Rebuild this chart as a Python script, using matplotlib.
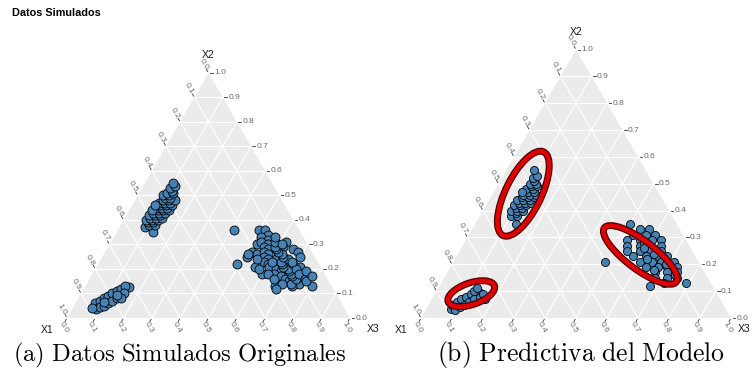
import numpy as np
import matplotlib.pyplot as plt
from matplotlib.patches import Polygon, Ellipse

plt.rcParams['font.family'] = ['Liberation Sans', 'DejaVu Sans']
plt.rcParams['mathtext.fontset'] = 'cm'

# compositions are stored as (X2, X3); X1 = 1 - X2 - X3

# (a) datos simulados originales
a_low_x2 = [0.045, 0.055, 0.065, 0.075, 0.085, 0.095, 0.105, 0.115, 0.125,
            0.06, 0.07, 0.08, 0.09, 0.10, 0.11, 0.12, 0.13,
            0.035, 0.045, 0.05, 0.06, 0.07, 0.08, 0.09, 0.10,
            0.08, 0.04, 0.065, 0.095]
a_low_x3 = [0.075, 0.085, 0.095, 0.105, 0.115, 0.125, 0.135, 0.145, 0.155,
            0.07, 0.08, 0.09, 0.10, 0.11, 0.12, 0.13, 0.14,
            0.085, 0.095, 0.105, 0.115, 0.125, 0.135, 0.14, 0.15,
            0.15, 0.07, 0.10, 0.13]

a_mid_x2 = [0.35, 0.37, 0.38, 0.38, 0.39, 0.39, 0.40, 0.40, 0.40, 0.41, 0.41, 0.41,
            0.42, 0.42, 0.42, 0.43, 0.43, 0.43, 0.44, 0.44, 0.44, 0.45, 0.45, 0.45,
            0.46, 0.46, 0.46, 0.47, 0.47, 0.47, 0.48, 0.48, 0.48, 0.49, 0.49, 0.50,
            0.50, 0.51, 0.51, 0.52, 0.53, 0.54, 0.55, 0.44, 0.46]
a_mid_x3 = [0.13, 0.09, 0.10, 0.12, 0.09, 0.11, 0.08, 0.10, 0.12, 0.09, 0.11, 0.13,
            0.08, 0.10, 0.12, 0.09, 0.11, 0.13, 0.10, 0.12, 0.14, 0.09, 0.11, 0.13,
            0.10, 0.12, 0.14, 0.09, 0.11, 0.13, 0.10, 0.12, 0.14, 0.10, 0.12, 0.09,
            0.11, 0.10, 0.12, 0.11, 0.10, 0.11, 0.10, 0.08, 0.08]

a_right_x2 = [0.36, 0.22, 0.25, 0.36, 0.36, 0.34, 0.27, 0.21, 0.13, 0.13, 0.31, 0.21,
              0.14, 0.13, 0.29, 0.24, 0.20, 0.18, 0.26, 0.30, 0.33, 0.32, 0.31, 0.30,
              0.29, 0.28, 0.27, 0.26, 0.25, 0.24, 0.23, 0.22, 0.21, 0.20, 0.19, 0.18,
              0.17, 0.16, 0.15, 0.14, 0.16, 0.17, 0.18, 0.19, 0.20, 0.21, 0.22, 0.23,
              0.24, 0.25, 0.26, 0.27, 0.28, 0.29, 0.22, 0.20, 0.18, 0.16, 0.15, 0.19,
              0.17, 0.23, 0.24, 0.26, 0.31, 0.30, 0.33, 0.14, 0.12, 0.23, 0.20, 0.18,
              0.16, 0.28, 0.27, 0.25]
a_right_x3 = [0.41, 0.49, 0.51, 0.50, 0.52, 0.54, 0.52, 0.56, 0.80, 0.67, 0.62, 0.72,
              0.75, 0.73, 0.62, 0.62, 0.62, 0.60, 0.54, 0.52, 0.52, 0.55, 0.53, 0.56,
              0.55, 0.57, 0.56, 0.58, 0.57, 0.59, 0.58, 0.60, 0.61, 0.64, 0.66, 0.64,
              0.67, 0.69, 0.71, 0.72, 0.73, 0.71, 0.70, 0.69, 0.68, 0.66, 0.65, 0.64,
              0.66, 0.64, 0.63, 0.61, 0.60, 0.59, 0.69, 0.71, 0.73, 0.76, 0.77, 0.75,
              0.78, 0.68, 0.55, 0.51, 0.58, 0.61, 0.57, 0.69, 0.68, 0.61, 0.58, 0.62,
              0.65, 0.66, 0.68, 0.70]

# (b) predictiva del modelo
b_low_x2 = [0.035, 0.045, 0.055, 0.065, 0.075, 0.085, 0.095,
            0.05, 0.06, 0.07, 0.08, 0.09, 0.10, 0.11,
            0.03, 0.04, 0.05, 0.06, 0.07, 0.08,
            0.08, 0.07, 0.09]
b_low_x3 = [0.08, 0.09, 0.10, 0.11, 0.12, 0.13, 0.14,
            0.075, 0.085, 0.095, 0.105, 0.115, 0.12, 0.125,
            0.095, 0.105, 0.115, 0.125, 0.135, 0.15,
            0.165, 0.17, 0.155]

b_mid_x2 = [0.35, 0.38, 0.38, 0.39, 0.40, 0.40, 0.40, 0.41, 0.41, 0.42, 0.42, 0.42,
            0.43, 0.43, 0.43, 0.44, 0.44, 0.44, 0.45, 0.45, 0.45, 0.46, 0.46, 0.46,
            0.47, 0.47, 0.48, 0.48, 0.49, 0.49, 0.50, 0.50, 0.51, 0.52, 0.53, 0.55,
            0.47]
b_mid_x3 = [0.13, 0.10, 0.12, 0.11, 0.09, 0.11, 0.13, 0.10, 0.12, 0.09, 0.11, 0.13,
            0.10, 0.12, 0.14, 0.09, 0.11, 0.13, 0.10, 0.12, 0.14, 0.10, 0.12, 0.14,
            0.11, 0.13, 0.10, 0.12, 0.11, 0.13, 0.10, 0.12, 0.11, 0.10, 0.11, 0.09,
            0.09]

b_right_x2 = [0.33, 0.33, 0.31, 0.31, 0.31, 0.29, 0.29, 0.29, 0.29, 0.27, 0.27, 0.27,
              0.27, 0.25, 0.25, 0.25, 0.25, 0.23, 0.23, 0.23, 0.23, 0.21, 0.21, 0.21,
              0.21, 0.19, 0.19, 0.19, 0.19, 0.17, 0.17, 0.17, 0.15, 0.15, 0.15, 0.13,
              0.13, 0.21, 0.35, 0.12, 0.28, 0.24, 0.20, 0.22, 0.18, 0.26, 0.16]
b_right_x3 = [0.54, 0.57, 0.53, 0.57, 0.60, 0.52, 0.56, 0.60, 0.63, 0.53, 0.57, 0.60,
              0.64, 0.54, 0.58, 0.61, 0.65, 0.57, 0.61, 0.65, 0.68, 0.60, 0.64, 0.67,
              0.71, 0.63, 0.67, 0.70, 0.73, 0.67, 0.71, 0.74, 0.68, 0.72, 0.75, 0.72,
              0.79, 0.49, 0.50, 0.68, 0.58, 0.63, 0.69, 0.62, 0.66, 0.59, 0.74]

# predictive regions in (b): centre (X2, X3), axes as fraction of the side, angle
reg_x2 = [0.0905, 0.463, 0.235]
reg_x3 = [0.117, 0.0985, 0.59]
reg_width = [0.158, 0.30, 0.29]
reg_height = [0.07, 0.115, 0.092]
reg_angle = [19, 64, -37]

tick_vals = [0.0, 0.1, 0.2, 0.3, 0.4, 0.5, 0.6, 0.7, 0.8, 0.9, 1.0]
tick_labels = ['0.0', '0.1', '0.2', '0.3', '0.4', '0.5', '0.6', '0.7', '0.8', '0.9', '1.0']

SQ = np.sqrt(3) / 2


def to_xy(x2, x3):
	x2 = np.asarray(x2)
	x3 = np.asarray(x3)
	return x3 + x2 / 2, x2 * SQ


def frame(ax, side_px, x3_shift=23):
	px = 1.0 / side_px
	ax.set_xlim(0, 1)
	ax.set_ylim(0, SQ)
	ax.axis('off')
	ax.add_patch(Polygon([[0, 0], [1, 0], [0.5, SQ]], closed=True,
	                     facecolor='#EBEBEB', edgecolor='none', zorder=0))
	grid = dict(color='white', lw=0.8, zorder=1)
	for v in tick_vals[1:-1]:
		ax.plot([v / 2, 1 - v / 2], [v * SQ, v * SQ], **grid)
		ax.plot([v, (1 + v) / 2], [0, (1 - v) * SQ], **grid)
		ax.plot([1 - v, (1 - v) / 2], [0, (1 - v) * SQ], **grid)

	tk = dict(color='#333333', lw=0.6, clip_on=False)
	lab = dict(fontsize=6, color='#6A6A6A')
	for v, s in zip(tick_vals, tick_labels):
		# X2 (right side)
		x0, y0 = 1 - v / 2, v * SQ
		ax.plot([x0 + 1.5 * px, x0 + 4 * px], [y0, y0], **tk)
		ax.text(x0 + 5.5 * px, y0, s, ha='left', va='center', **lab)
		# X1 (left side)
		x0, y0 = (1 - v) / 2, (1 - v) * SQ
		dx, dy = -0.5, SQ
		ax.plot([x0 + dx * 1.5 * px, x0 + dx * 4 * px], [y0 + dy * 1.5 * px, y0 + dy * 4 * px], **tk)
		ax.text(x0 + dx * 10 * px, y0 + dy * 10 * px, s, rotation=-60,
		        rotation_mode='anchor', ha='center', va='center', **lab)
		# X3 (bottom side)
		x0, y0 = v, 0
		dx, dy = -0.5, -SQ
		ax.plot([x0 + dx * 1.5 * px, x0 + dx * 4 * px], [y0 + dy * 1.5 * px, y0 + dy * 4 * px], **tk)
		ax.text(x0 - 3 * px, y0 - 9.5 * px, s, rotation=-60,
		        rotation_mode='anchor', ha='center', va='center', **lab)

	vl = dict(fontsize=7.5, color='#1A1A1A', ha='center', va='center')
	ax.text(-20 * px, -12 * px, 'X1', **vl)
	ax.text(0.5, SQ + 18 * px, 'X2', **vl)
	ax.text(1 + x3_shift * px, -11 * px, 'X3', **vl)


def points(ax, x2, x3, size):
	x, y = to_xy(x2, x3)
	ax.scatter(x, y, s=size, color='#4682B4', edgecolors='black', linewidths=0.6,
	           zorder=3, clip_on=False)


fig = plt.figure(figsize=(7.52, 3.75), dpi=100)

axA = fig.add_axes([67 / 752, 57 / 375, 283 / 752, 283 * SQ / 375])
frame(axA, 283)
points(axA, a_low_x2, a_low_x3, 42)
points(axA, a_mid_x2, a_mid_x3, 42)
points(axA, a_right_x2, a_right_x3, 42)

axB = fig.add_axes([421 / 752, 57 / 375, 310 / 752, 310 * SQ / 375])
frame(axB, 310, x3_shift=13)
points(axB, b_low_x2, b_low_x3, 34)
points(axB, b_mid_x2, b_mid_x3, 34)
points(axB, b_right_x2, b_right_x3, 34)

cx, cy = to_xy(reg_x2, reg_x3)
for i in range(len(reg_width)):
	for col, lw in [('#4A0000', 5.0), ('#E00000', 3.2)]:
		axB.add_patch(Ellipse((cx[i], cy[i]), reg_width[i], reg_height[i],
		                      angle=reg_angle[i], fill=False, edgecolor=col,
		                      lw=lw, zorder=4))

fig.text(12 / 752, 1 - 13 / 375, 'Datos Simulados', fontsize=7.8, fontweight='bold',
         ha='left', va='center')
fig.text(180 / 752, 1 - 355 / 375, r'$\mathrm{(a)\ Datos\ Simulados\ Originales}$',
         fontsize=17.7, ha='center', va='center')
fig.text(581 / 752, 1 - 355 / 375, r'$\mathrm{(b)\ Predictiva\ del\ Modelo}$',
         fontsize=18.5, ha='center', va='center')

fig.savefig('out.png', dpi=100)
